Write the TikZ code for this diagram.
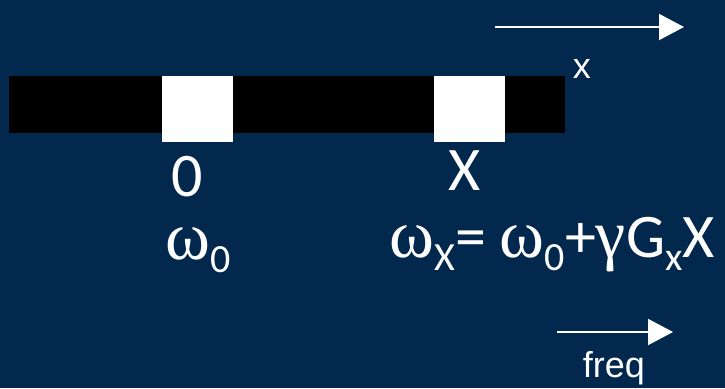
\documentclass[tikz,border=0pt]{standalone}
\usepackage{fontspec}
\setmainfont{Carlito}
\newfontfamily\greekfont[Scale=1.1]{Liberation Serif}
\newfontfamily\arialfont{Liberation Sans}
\usetikzlibrary{arrows.meta}
\definecolor{slidenavy}{RGB}{2,41,77}
\newcommand{\lowsub}[1]{\raisebox{-6.5pt}{\fontsize{20}{20}\selectfont #1}}
\newcommand{\gk}[1]{{\greekfont #1}}

\begin{document}
\begin{tikzpicture}[x=0.5pt, y=-0.5pt,
  lbl/.style={font=\fontsize{31}{31}\selectfont, text=white, inner sep=0pt},
  axislbl/.style={font=\arialfont\fontsize{18}{18}\selectfont, text=white, inner sep=0pt},
  axis/.style={white, line width=1pt, -{Triangle[length=12.5pt, width=13pt]}}]
  % slide background
  \fill[slidenavy] (0,0) rectangle (725,388);
  % sample bar with two voxels
  \fill[black] (9,76) rectangle (565,133);
  \fill[white] (162,76) rectangle (233,142);
  \fill[white] (434,76) rectangle (505,142);
  % position axis
  \coordinate (xstart) at (495,27);
  \coordinate (xend) at (684,27);
  \draw[axis] (xstart) -- (xend);
  \node[axislbl, anchor=base] (xlbl) at (582,78) {x};
  % positions and frequencies
  \node[lbl, anchor=base] (pos0) at (187,196) {0};
  \node[lbl, anchor=base] (posX) at (465,190) {X};
  \node[lbl, anchor=base west] (om0) at (165,259) {\gk{ω}\lowsub{0}};
  \node[lbl, anchor=base west] (omX) at (389,257) {\gk{ω}\lowsub{X}= \gk{ω}\lowsub{0}+\gk{γ}G\lowsub{x}X};
  % frequency axis
  \coordinate (fstart) at (557,332);
  \coordinate (fend) at (673,332);
  \draw[axis] (fstart) -- (fend);
  \node[axislbl, anchor=base] (freq) at (614,377) {freq};
\end{tikzpicture}
\end{document}
